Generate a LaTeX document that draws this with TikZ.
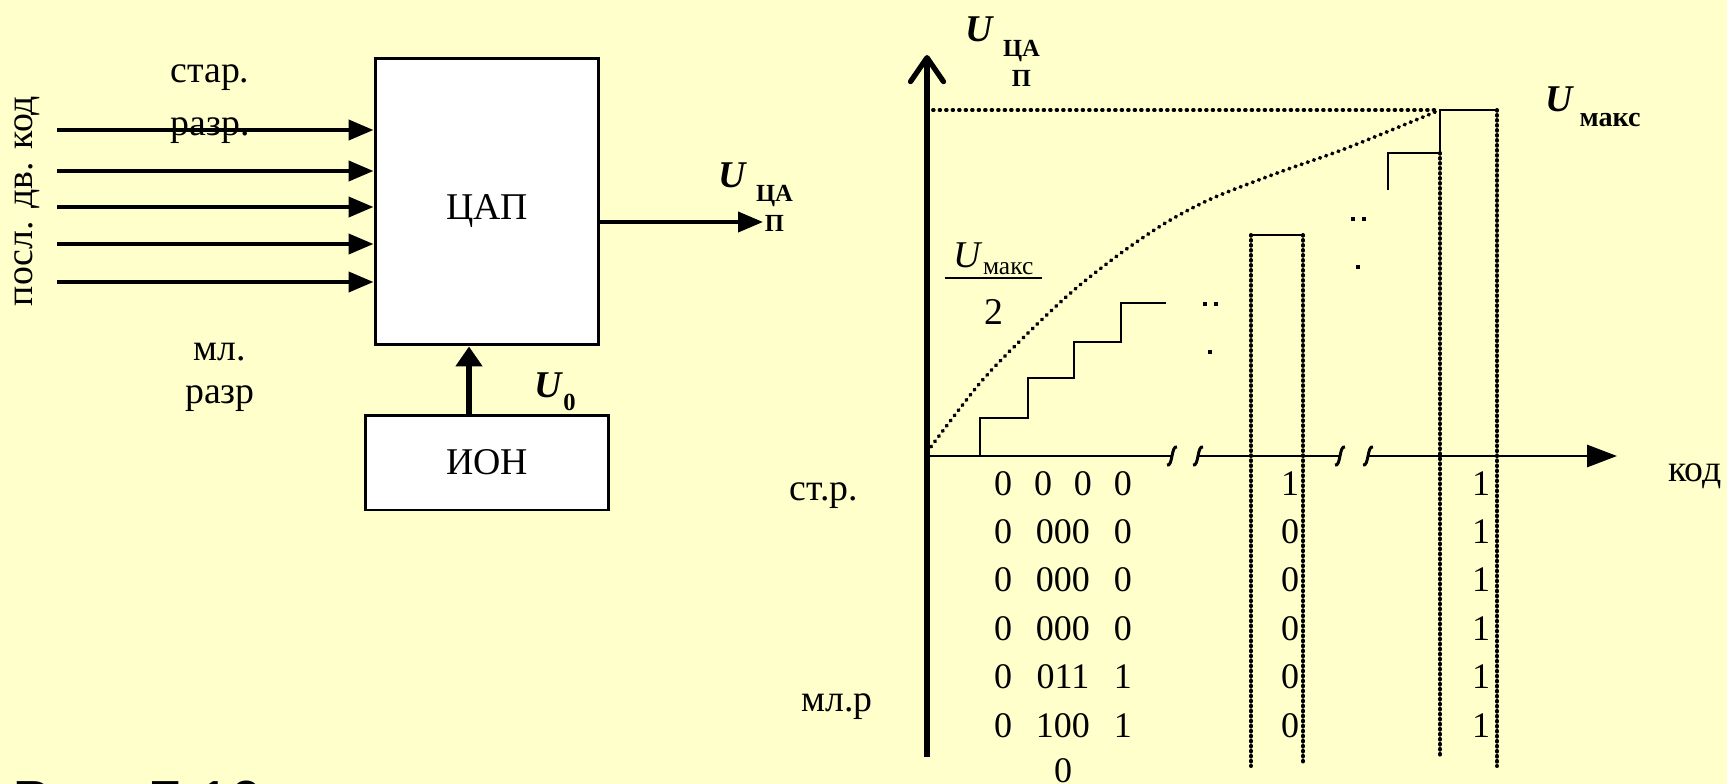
\documentclass[tikz,border=0pt]{standalone}
\usepackage{fontspec}
\setmainfont{Liberation Serif}
\newfontfamily\capfont{Liberation Sans}
\usetikzlibrary{arrows.meta}
\definecolor{slidebg}{RGB}{255,255,204}
\newcommand{\lblsize}{\fontsize{21.5}{27}\selectfont}
\newcommand{\digsize}{\fontsize{20.5}{25}\selectfont}
\newcommand{\Udac}{\textbf{\textit{U}}\hspace{5pt}\raisebox{-8.5pt}{\fontsize{14}{17}\selectfont\bfseries\begin{tabular}[t]{@{}c@{}}ЦА\\П\end{tabular}}}
\newcommand{\coderow}[3]{\makebox[22.7pt]{#1}\makebox[45.4pt]{#2}\makebox[22.7pt]{#3}}

\begin{document}
\begin{tikzpicture}[x=0.02cm,y=-0.02cm,
 lbl/.style={inner sep=0pt,anchor=base,font=\lblsize},
 digit/.style={inner sep=0pt,anchor=base,font=\digsize},
 block/.style={draw,line width=1.7pt,fill=white,inner sep=0pt,font=\lblsize},
 bus/.style={line width=2.3pt,-{Triangle[length=0.5cm,width=0.4cm]}},
 refbus/.style={line width=3.4pt,-{Triangle[length=0.4cm,width=0.52cm]}},
 axisline/.style={line width=1.7pt},
 stair/.style={line width=1.5pt},
 finedots/.style={line width=2.2pt,line cap=round,dash pattern=on 0.4pt off 3.3pt},
 thickdots/.style={line width=2.3pt,line cap=round,dash pattern=on 0.4pt off 2.45pt}]
 \fill[slidebg] (0,0) rectangle (1727,784);
 \useasboundingbox (0,0) rectangle (1727,784);
 \begin{scope}
  \node[block,minimum width=4.48cm,minimum height=5.74cm] (dac) at (487,201.5) {\raisebox{-5.7pt}[\height][\depth]{ЦАП}};
  \node[block,minimum width=4.88cm,minimum height=1.9cm] (ion) at (487,462.5) {ИОН};
  \node[lbl,rotate=90,anchor=center] (code) at (27,201) {посл. дв. код};
  \node[lbl,align=center] (msb) at (210,135) {стар.\\[3pt]разр.};
  \node[lbl,align=center] (lsb) at (220,403) {мл.\\[-2.6pt]разр};
  \foreach \y [count=\i] in {130,171,207,244,282} {
   \coordinate (in\i) at (57,\y);
   \draw[bus] (in\i) -- (in\i -| dac.west);
  }
  \coordinate (uout) at (763,222);
  \draw[bus] (dac.east |- uout) -- (uout);
  \node[lbl,anchor=base west] (uoutlbl) at (718,187) {\Udac};
  \coordinate (uref) at (469,430);
  \draw[refbus] (ion.north -| uref) -- (dac.south -| uref);
  \node[lbl,anchor=base west] (u0) at (534,397) {\textbf{\textit{U}}\raisebox{-7.4pt}{\fontsize{14}{17}\selectfont\bfseries 0}};
 \end{scope}
 \begin{scope}
  \coordinate (O) at (927,456);
  \coordinate (ytop) at (927,55);
  \coordinate (ybot) at (927,757);
  \coordinate (xend) at (1617,456);
  \draw[line width=3pt,-{Straight Barb[length=0.48cm,width=0.66cm,round]}] (ybot) -- (ytop);
  \draw[axisline] (O) -- (1172,456);
  \draw[axisline] (1198,456) -- (1340,456);
  \draw[axisline,-{Triangle[length=0.6cm,width=0.44cm]}] (1368,456) -- (xend);
  \foreach \bx in {1172,1198,1340,1368}
   \draw[axisline] (\bx-5,465) .. controls (\bx+1,467) and (\bx-1,445) .. (\bx+5,447);
  \draw[stair] (980,456) |- (1028,418) |- (1074,378) |- (1121,342) |- (1166,303);
  \draw[stair] (1251,235) -- (1303,235);
  \draw[thickdots] (1251,235) -- (1251,766);
  \draw[thickdots] (1303,235) -- (1303,765);
  \draw[stair] (1388,190) |- (1440,153) |- (1497,110);
  \draw[thickdots] (1440,153) -- (1440,756);
  \draw[thickdots] (1497,110) -- (1497,766);
  \draw[finedots] (933,110) -- (1440,110);
  \draw[finedots] plot[smooth] coordinates {(927,452) (980,383) (1028,333) (1074,290) (1121,253) (1167,222) (1213,198) (1280,172) (1347,148) (1440,110)};
  \foreach \dx/\dy in {1205/304,1216/304,1210/352,1353/219,1364/219,1358/267}
   \fill (\dx-2,\dy-2) rectangle (\dx+2,\dy+2);
  \node[lbl,anchor=base west] (uylbl) at (965,42) {\Udac};
  \node[lbl,anchor=base west] (umax) at (1545,112) {\textbf{\textit{U}}\hspace{3pt}\raisebox{-8.5pt}{\fontsize{16}{19}\selectfont\bfseries макс}};
  \node[lbl] (half) at (993.5,267) {\setlength{\arrayrulewidth}{1.1pt}\begin{tabular}[t]{@{\hspace{5pt}}c@{\hspace{5pt}}}\textit{U}\raisebox{-4.5pt}{\fontsize{14.5}{17}\selectfont макс}\\[-2.5pt]\hline\rule{0pt}{26pt}2\end{tabular}};
  \node[lbl] (msbrow) at (824,500) {ст.р.};
  \node[lbl] (lsbrow) at (837,711) {мл.р};
  \node[lbl] (kod) at (1695,481) {код};
  \foreach \a/\b/\c/\p/\q [count=\r from 0] in {0/{0\hspace{12.5pt}0}/0/1/1,0/000/0/0/1,0/000/0/0/1,0/000/0/0/1,0/011/1/0/1,0/100/1/0/1} {
   \node[digit] (row\r) at (1063,{495+48.4*\r}) {\coderow{\a}{\b}{\c}};
   \node[digit] (pa\r) at (1290,{495+48.4*\r}) {\p};
   \node[digit] (pb\r) at (1481,{495+48.4*\r}) {\q};
  }
  \node[digit] (tail) at (1063,782) {0};
 \end{scope}
 \node[anchor=base west,inner sep=0pt,font=\capfont\fontsize{33}{40}\selectfont] (fig) at (12,821) {Рис. 7.10};
\end{tikzpicture}
\end{document}
